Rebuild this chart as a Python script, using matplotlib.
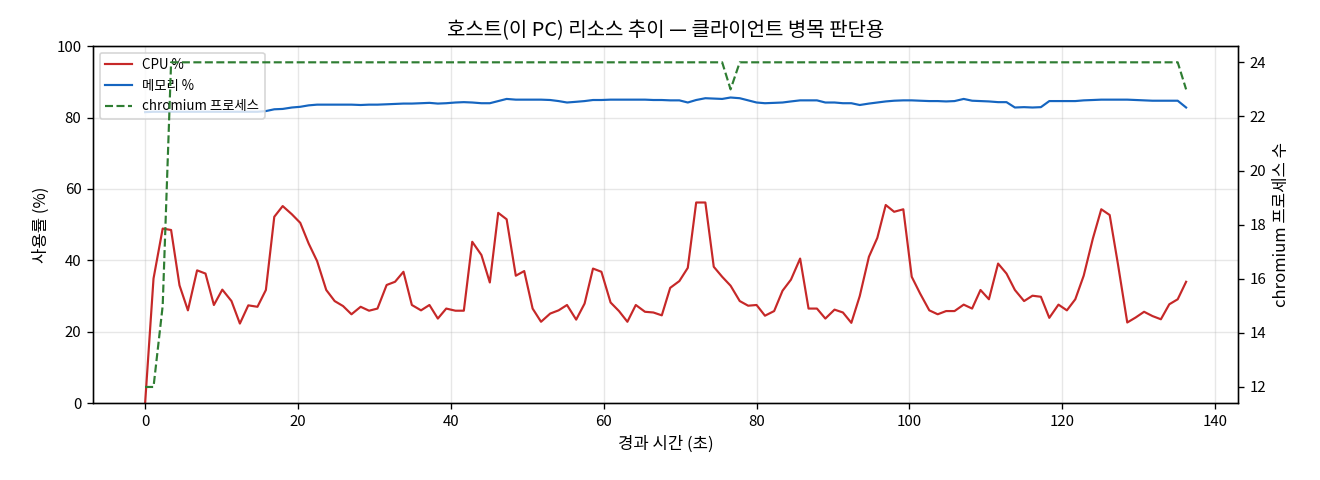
import matplotlib
matplotlib.use("Agg")
import matplotlib.pyplot as plt

plt.rcParams['font.family'] = ['Noto Sans CJK KR', 'DejaVu Sans']
plt.rcParams['axes.unicode_minus'] = False

# 경과 시간 (초)
elapsed = [0.0, 1.1, 2.3, 3.4, 4.5, 5.6, 6.8, 7.9, 9.0, 10.1,
           11.3, 12.4, 13.5, 14.7, 15.8, 16.9, 18.0, 19.2, 20.3, 21.4,
           22.5, 23.7, 24.8, 25.9, 27.0, 28.2, 29.3, 30.4, 31.6, 32.7,
           33.8, 34.9, 36.1, 37.2, 38.3, 39.4, 40.6, 41.7, 42.8, 44.0,
           45.1, 46.2, 47.3, 48.5, 49.6, 50.7, 51.8, 53.0, 54.1, 55.2,
           56.4, 57.5, 58.6, 59.7, 60.9, 62.0, 63.1, 64.2, 65.4, 66.5,
           67.6, 68.7, 69.9, 71.0, 72.1, 73.3, 74.4, 75.5, 76.6, 77.8,
           78.9, 80.0, 81.1, 82.3, 83.4, 84.5, 85.7, 86.8, 87.9, 89.0,
           90.2, 91.3, 92.4, 93.5, 94.7, 95.8, 96.9, 98.0, 99.2, 100.3,
           101.4, 102.6, 103.7, 104.8, 105.9, 107.1, 108.2, 109.3, 110.4, 111.6,
           112.7, 113.8, 115.0, 116.1, 117.2, 118.3, 119.5, 120.6, 121.7, 122.8,
           124.0, 125.1, 126.2, 127.3, 128.5, 129.6, 130.7, 131.8, 132.9, 134.0,
           135.1, 136.2]

cpu = [0.0, 34.9, 48.9, 48.5, 33.0, 26.0, 37.2, 36.3, 27.5, 31.8,
       28.6, 22.3, 27.4, 27.0, 31.7, 52.2, 55.2, 52.9, 50.5, 44.7,
       39.8, 31.7, 28.6, 27.2, 24.9, 27.0, 25.9, 26.5, 33.1, 34.0,
       36.8, 27.5, 26.0, 27.5, 23.7, 26.5, 25.9, 25.9, 45.2, 41.5,
       33.8, 53.3, 51.5, 35.7, 37.0, 26.5, 22.8, 25.1, 26.0, 27.5,
       23.4, 27.9, 37.7, 36.8, 28.2, 25.8, 22.8, 27.5, 25.6, 25.4,
       24.6, 32.3, 34.2, 37.9, 56.2, 56.2, 38.2, 35.4, 32.9, 28.6,
       27.3, 27.5, 24.5, 25.8, 31.5, 34.6, 40.5, 26.5, 26.5, 23.7,
       26.2, 25.4, 22.5, 30.0, 41.0, 46.3, 55.5, 53.6, 54.3, 35.4,
       30.7, 26.0, 24.9, 25.8, 25.8, 27.6, 26.5, 31.7, 29.1, 39.1,
       36.3, 31.7, 28.6, 30.1, 29.8, 23.9, 27.6, 26.0, 29.1, 35.7,
       46.1, 54.3, 52.7, 38.7, 22.6, 24.0, 25.6, 24.4, 23.5, 27.7,
       29.1, 34.0]

memory = [81.5, 81.6, 81.6, 81.6, 81.6, 81.6, 81.6, 81.6, 81.6, 81.6,
          81.6, 81.6, 81.6, 81.6, 81.8, 82.3, 82.4, 82.8, 83.0, 83.4,
          83.6, 83.6, 83.6, 83.6, 83.6, 83.5, 83.6, 83.6, 83.7, 83.8,
          83.9, 83.9, 84.0, 84.1, 83.9, 84.0, 84.2, 84.3, 84.2, 84.0,
          84.0, 84.6, 85.2, 85.0, 85.0, 85.0, 85.0, 84.9, 84.6, 84.2,
          84.4, 84.6, 84.9, 84.9, 85.0, 85.0, 85.0, 85.0, 85.0, 84.9,
          84.9, 84.8, 84.8, 84.2, 84.9, 85.4, 85.3, 85.2, 85.6, 85.4,
          84.8, 84.2, 84.0, 84.1, 84.2, 84.5, 84.8, 84.8, 84.8, 84.2,
          84.2, 84.0, 84.0, 83.5, 83.9, 84.2, 84.5, 84.7, 84.8, 84.8,
          84.7, 84.6, 84.6, 84.5, 84.6, 85.2, 84.7, 84.6, 84.5, 84.3,
          84.3, 82.8, 82.9, 82.8, 82.9, 84.6, 84.6, 84.6, 84.6, 84.8,
          84.9, 85.0, 85.0, 85.0, 85.0, 84.9, 84.8, 84.7, 84.7, 84.7,
          84.7, 82.8]

chromium = [12, 12, 15, 24, 24, 24, 24, 24, 24, 24,
            24, 24, 24, 24, 24, 24, 24, 24, 24, 24,
            24, 24, 24, 24, 24, 24, 24, 24, 24, 24,
            24, 24, 24, 24, 24, 24, 24, 24, 24, 24,
            24, 24, 24, 24, 24, 24, 24, 24, 24, 24,
            24, 24, 24, 24, 24, 24, 24, 24, 24, 24,
            24, 24, 24, 24, 24, 24, 24, 24, 23, 24,
            24, 24, 24, 24, 24, 24, 24, 24, 24, 24,
            24, 24, 24, 24, 24, 24, 24, 24, 24, 24,
            24, 24, 24, 24, 24, 24, 24, 24, 24, 24,
            24, 24, 24, 24, 24, 24, 24, 24, 24, 24,
            24, 24, 24, 24, 24, 24, 24, 24, 24, 24,
            24, 23]

fig, ax = plt.subplots(figsize=(11, 4), dpi=120)
fig.subplots_adjust(left=0.0705, right=0.938, top=0.904, bottom=0.16)

l1, = ax.plot(elapsed, cpu, color="#c62828", lw=1.3, label="CPU %")
l2, = ax.plot(elapsed, memory, color="#1565c0", lw=1.3, label="메모리 %")
ax.set_ylim(0, 100)
ax.set_xlabel("경과 시간 (초)", fontsize=10)
ax.set_ylabel("사용률 (%)", fontsize=10)
ax.tick_params(labelsize=9)
ax.grid(True, alpha=0.3)
ax.set_title("호스트(이 PC) 리소스 추이 — 클라이언트 병목 판단용", fontsize=12)

ax2 = ax.twinx()
l3, = ax2.plot(elapsed, chromium, color="#2e7d32", lw=1.3, ls="--", label="chromium 프로세스")
ax2.set_ylabel("chromium 프로세스 수", fontsize=10)
ax2.tick_params(labelsize=9)

lines = [l1, l2, l3]
ax.legend(lines, [l.get_label() for l in lines], loc="upper left", fontsize=8)

fig.savefig("out.png", dpi=120)
